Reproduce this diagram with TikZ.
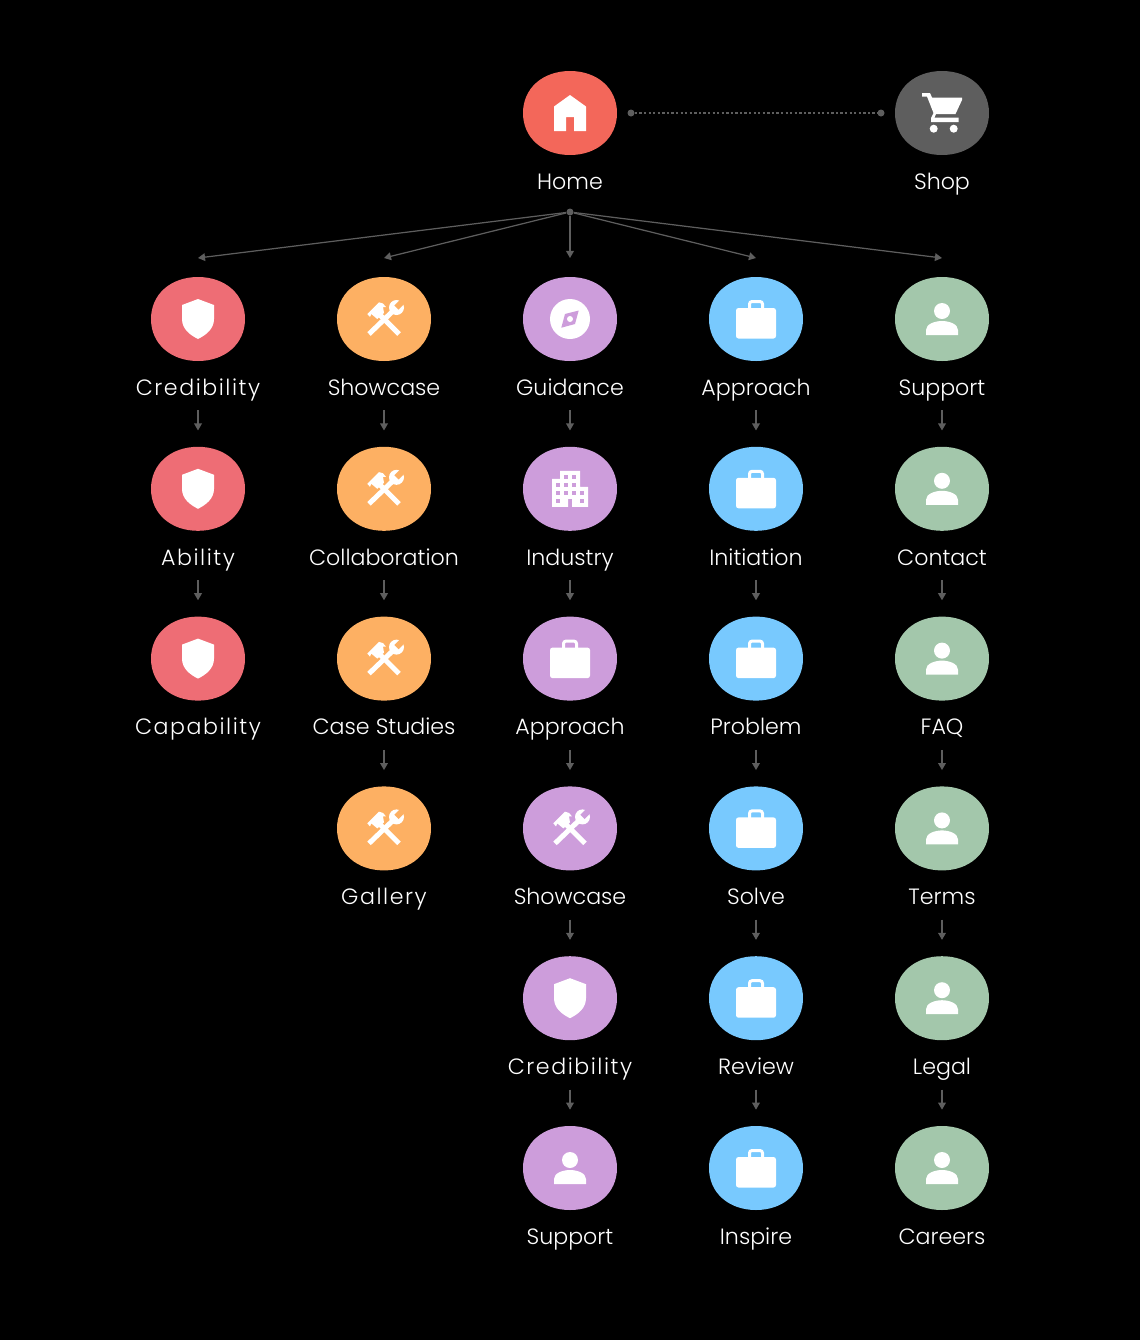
\documentclass[tikz,border=0pt]{standalone}
\usepackage{fontspec}
\setmainfont{Poppins}[UprightFont=* Light]
\usetikzlibrary{arrows.meta}
\definecolor{pagebg}{HTML}{000000}
\definecolor{linegray}{HTML}{5E5E5E}
\definecolor{homered}{HTML}{F3675A}
\definecolor{shopgray}{HTML}{5E5E5E}
\definecolor{credred}{HTML}{EE6D75}
\definecolor{showorange}{HTML}{FDB063}
\definecolor{guidepurple}{HTML}{CD9DDB}
\definecolor{approachblue}{HTML}{78C9FE}
\definecolor{supportgreen}{HTML}{A3C7AB}
\newcommand{\loosetxt}[1]{{\addfontfeature{LetterSpace=7}#1}}
\tikzset{
  badge/.style={rectangle, minimum width=1.88cm, minimum height=1.68cm, inner sep=0pt,
    path picture={\fill[#1, shift={(path picture bounding box.center)}]
      (-47,0) .. controls (-47,-25) and (-27,-42) .. (0,-42)
      .. controls (27,-42) and (47,-25) .. (47,0)
      .. controls (47,25) and (27,42) .. (0,42)
      .. controls (-27,42) and (-47,25) .. (-47,0) -- cycle;}},
  caption/.style={font=\fontsize{12.6pt}{14pt}\selectfont, text=white, inner sep=0pt,
    text height=9.5pt, text depth=3pt},
  edge/.style={-{Triangle[length=4pt,width=4.4pt]}, line width=0.7pt, color=linegray},
  stepflow/.style={edge, shorten <=9.5*0.02cm, shorten >=16*0.02cm},
  hubdot/.style={circle, fill=linegray, minimum size=0.14cm, inner sep=0pt},
  iconfill/.style={fill=white},
  % the glyphs, drawn round the centre of a badge
  homeicon/.pic={\fill[iconfill] (0,-18) -- (-16,-6.5) -- (-16,18) -- (-4,18) -- (-4,4) -- (4,4)
      -- (4,18) -- (16,18) -- (16,-6.5) -- cycle;},
  carticon/.pic={
    \fill[iconfill] (-20,-20) -- (-12,-20) -- (-10,-15.5) -- (20,-15.5) -- (20,-13) -- (13.5,1)
      -- (-6,1) -- (-7.5,4.5) -- (16.5,4.5) -- (16.5,9) -- (-11,9) -- (-11,5) -- (-8.5,0) -- (-15,-16.5) -- (-20,-16.5) -- cycle;
    \fill[iconfill] (-8.3,15.7) circle (4) (11.7,15.7) circle (4);},
  shieldicon/.pic={\fill[iconfill] (0,-20) -- (16,-14) -- (16,0) .. controls (16,10) and (8,16) .. (0,20)
      .. controls (-8,16) and (-16,10) .. (-16,0) -- (-16,-14) -- cycle;},
  toolsicon/.pic={
    \fill[iconfill] (12.5,-11.5) circle (7.5);
    \fill[fill=tool] (10.4,-13.6) -- (14.6,-9.4) -- (24.6,-19.4) -- (20.4,-23.6) -- cycle;
    \draw[white, line width=0.1cm] (-15,15) -- (9,-8);
    \draw[white, line width=0.1cm] (15,15) -- (-4,-4);
    \fill[iconfill] (-16.7,-5) -- (-5,-16.7) -- (-1,-15.5) -- (2,-12) -- (-1,-12) -- (0,-6) -- (-6.7,0) -- (-12.7,-5) -- (-14,-2) -- cycle;},
  compassicon/.pic={
    \fill[iconfill] (0,0) circle (20);
    \fill[fill=tool] (8.7,-8.5) -- (5,5) -- (-8.7,8.7) -- (-5,-5) -- cycle;
    \fill[iconfill] (0,0) circle (3);},
  buildingicon/.pic={
    \fill[iconfill] (-10,-18) -- (10,-18) -- (10,-2) -- (18,-2) -- (18,18) -- (2,18) -- (2,10) -- (-2,10)
      -- (-2,18) -- (-18,18) -- (-18,-10) -- (-10,-10) -- cycle;
    \foreach \wx/\wy in {-6/-14,2/-14,-14/-6,-6/-6,2/-6,-14/2,-6/2,2/2,10/2,-14/10,10/10}
      \fill[fill=tool] (\wx,\wy) rectangle +(4,4);},
  caseicon/.pic={
    \draw[white, line width=0.06cm, rounded corners=0.05cm] (-6.5,-10) -- (-6.5,-17.5) -- (6.5,-17.5) -- (6.5,-10);
    \fill[iconfill, rounded corners=0.05cm] (-20,-11) rectangle (20,19.5);},
  personicon/.pic={
    \fill[iconfill] (0,-8) circle (8);
    \fill[iconfill] (-16,16) -- (-16,11) .. controls (-16,5) and (-7,2) .. (0,2)
      .. controls (7,2) and (16,5) .. (16,11) -- (16,16) -- cycle;},
}
\begin{document}
\begin{tikzpicture}[x=0.02cm,y=-0.02cm]
  \useasboundingbox[fill=pagebg] (0,0) rectangle (1140,1340);
  % top row
  \node[badge=homered] (home) at (570,113) {};
  \node[badge=shopgray] (shop) at (942,113) {};
  \colorlet{tool}{homered}
  \pic at (home.center) {homeicon};
  \pic at (shop.center) {carticon};
  \node[caption] (homecap) at (570,183.5) {Home};
  \node[caption] (shopcap) at (942,183.5) {Shop};
  \node[hubdot] (homedot) at (631,113) {};
  \node[hubdot] (shopdot) at (881,113) {};
  \draw[linegray, line width=0.75pt, dash pattern=on 1.3pt off 1.3pt] (homedot) -- (shopdot);
  \node[hubdot] (hub) at (570,212) {};
  % the five columns
  \foreach \c/\x/\col/\list in {
      a/198/credred/{shieldicon/\loosetxt{Credibility},shieldicon/\loosetxt{Ability},shieldicon/\loosetxt{Capability}},
      b/384/showorange/{toolsicon/Showcase,toolsicon/Collaboration,toolsicon/Case Studies,toolsicon/\loosetxt{Gallery}},
      c/570/guidepurple/{compassicon/Guidance,buildingicon/Industry,caseicon/Approach,toolsicon/Showcase,shieldicon/\loosetxt{Credibility},personicon/Support},
      d/756/approachblue/{caseicon/Approach,caseicon/Initiation,caseicon/Problem,caseicon/Solve,caseicon/Review,caseicon/Inspire},
      e/942/supportgreen/{personicon/Support,personicon/Contact,personicon/FAQ,personicon/Terms,personicon/Legal,personicon/Careers}} {
    \colorlet{tool}{\col}
    \coordinate (fan\c) at (\x,258);
    \draw[edge] (hub) -- (fan\c);
    \foreach \ic/\txt [count=\r from 0] in \list {
      \pgfmathsetmacro\ypos{319+169.8*\r}
      \node[badge=\col] (\c\r) at (\x,\ypos) {};
      \pic at (\c\r.center) {\ic};
      \node[caption] (\c\r cap) at (\x,\ypos+70.5) {\txt};
      \ifnum\r>0
        \pgfmathtruncatemacro\prev{\r-1}
        \draw[stepflow] (\c\prev cap.south) -- (\c\r.north);
      \fi
    }
  }
\end{tikzpicture}
\end{document}
